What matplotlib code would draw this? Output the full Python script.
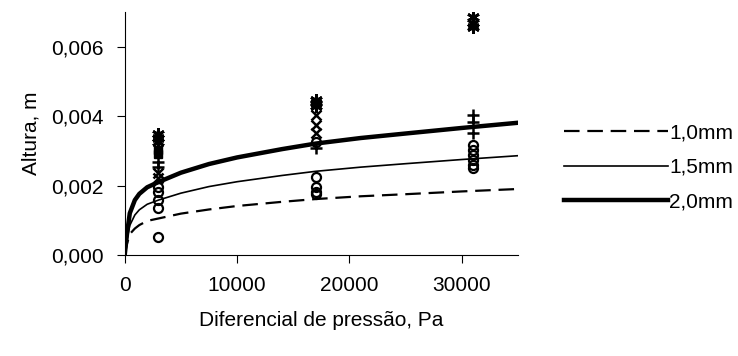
import numpy as np
import matplotlib
matplotlib.use("Agg")
import matplotlib.pyplot as plt
from matplotlib.ticker import FuncFormatter

plt.rcParams['font.family'] = ['Liberation Sans', 'DejaVu Sans']
plt.rcParams['font.size'] = 15

# ---------------- curvas ----------------
x_curve = [0, 100, 200, 450, 900, 1300, 2000, 3000, 5000, 7500, 10000,
           14000, 17000, 21000, 25000, 30000, 35000]
h_20 = [0, 0.00030, 0.00060, 0.00120, 0.00158, 0.00176, 0.00195, 0.00210,
        0.00237, 0.00262, 0.00281, 0.00305, 0.00321, 0.00337, 0.00350,
        0.00366, 0.00381]
h_15 = [0, 0.00022, 0.00044, 0.00085, 0.00115, 0.00130, 0.00146, 0.00158,
        0.00178, 0.00197, 0.00211, 0.00229, 0.00241, 0.00253, 0.00263,
        0.00275, 0.00286]
h_10 = [0, 0.00016, 0.00032, 0.00060, 0.00076, 0.00086, 0.00098, 0.00105,
        0.00119, 0.00131, 0.00141, 0.00153, 0.00161, 0.00169, 0.00175,
        0.00183, 0.00190]

# ---------------- pontos experimentais ----------------
circ_x = [3000, 3000, 3000, 3000, 3000, 17000, 17000, 17000, 17000, 17000,
          31000, 31000, 31000, 31000, 31000, 31000]
circ_y = [0.00196, 0.00181, 0.00158, 0.00135, 0.00052, 0.00325, 0.00225,
          0.00195, 0.00182, 0.00176, 0.00317, 0.00302, 0.00288, 0.00273,
          0.00259, 0.00250]

plus_x = [3000, 3000, 17000, 31000, 31000, 31000]
plus_y = [0.00268, 0.00253, 0.00308, 0.00403, 0.00383, 0.00351]

cross_x = [3000, 3000, 17000, 17000, 17000, 31000]
cross_y = [0.00236, 0.00222, 0.00403, 0.00374, 0.00351, 0.00665]

star_x = [3000, 3000, 3000, 17000, 17000, 17000, 31000, 31000, 31000]
star_y = [0.00348, 0.00337, 0.00325, 0.00446, 0.00438, 0.00430, 0.00685,
          0.00670, 0.00658]

sq_x = [3000, 3000]
sq_y = [0.00302, 0.00292]

# ---------------- figura ----------------
fig = plt.figure(figsize=(7.38, 3.56), dpi=100)
ax = fig.add_axes([0.169, 0.284, 0.533, 0.682])

l1, = ax.plot(x_curve, h_10, color='black', lw=1.6, dashes=(7, 3.5), label='1,0mm')
l2, = ax.plot(x_curve, h_15, color='black', lw=1.2, label='1,5mm')
l3, = ax.plot(x_curve, h_20, color='black', lw=3.2, label='2,0mm')

ax.plot(circ_x, circ_y, 'o', ms=6.5, mfc='none', mec='black', mew=1.6)
ax.plot(plus_x, plus_y, '+', ms=9, mec='black', mew=1.8)
ax.plot(cross_x, cross_y, 'x', ms=7, mec='black', mew=1.8)
ax.plot(star_x, star_y, marker=(6, 2, 0), ls='none', ms=9, mec='black', mew=2)
ax.plot(sq_x, sq_y, 's', ms=6, mfc='black', mec='black')

ax.set_xlim(0, 35000)
ax.set_ylim(0, 0.007)
ax.set_xticks([0, 10000, 20000, 30000])
ax.set_yticks([0, 0.002, 0.004, 0.006])
ax.yaxis.set_major_formatter(FuncFormatter(lambda v, p: f"{v:.3f}".replace('.', ',')))
ax.spines['top'].set_visible(False)
ax.spines['right'].set_visible(False)
ax.tick_params(direction='out', length=6, width=0.8, pad=9)

ax.set_xlabel('Diferencial de pressão, Pa', labelpad=12)
ax.set_ylabel('Altura, m', labelpad=8)

fig.legend(handles=[l1, l2, l3], loc='center left', bbox_to_anchor=(0.75, 0.53),
           frameon=False, handlelength=5.0, handletextpad=0.05, labelspacing=0.75,
           borderpad=0)

fig.savefig('out.png', dpi=100)
